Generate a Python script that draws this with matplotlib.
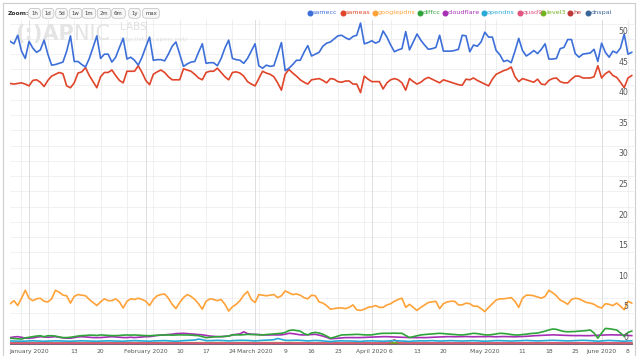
import pandas as pd
import matplotlib
matplotlib.use("Agg")
import matplotlib.pyplot as plt
import matplotlib.transforms as mtransforms
from matplotlib.lines import Line2D

# daily values, 27 Dec 2019 .. 9 Jun 2020
dates = pd.date_range("2019-12-27", "2020-06-09", freq="D")

samecc = [
    49.6, 49.2, 50.6, 48.0, 46.8, 49.6, 48.5, 47.8, 48.2, 49.8,
    47.5, 45.7, 45.8, 46.0, 46.2, 48.0, 50.5, 46.3, 46.3, 45.8,
    45.4, 46.8, 48.6, 50.5, 46.8, 47.5, 47.5, 46.2, 47.0, 48.6,
    50.1, 46.7, 47.0, 46.5, 45.7, 47.0, 48.7, 50.3, 46.5, 46.6,
    46.6, 46.4, 47.5, 48.8, 49.5, 47.5, 45.5, 45.9, 46.2, 46.3,
    47.8, 49.2, 46.0, 46.1, 46.1, 45.6, 46.8, 48.5, 49.8, 46.8,
    46.6, 46.5, 46.0, 46.8, 48.0, 49.2, 45.6, 45.2, 45.7, 45.5,
    45.6, 47.5, 49.4, 44.8, 45.2, 45.8, 46.5, 46.5, 47.8, 48.9,
    47.2, 47.5, 47.8, 48.8, 49.3, 49.5, 50.0, 50.5, 50.6, 50.2,
    49.9, 50.4, 50.6, 52.6, 49.2, 49.4, 49.7, 49.3, 49.6, 51.3,
    50.3, 49.0, 47.9, 48.2, 48.4, 51.2, 48.2, 49.5, 50.8, 49.8,
    49.0, 48.3, 48.4, 48.6, 50.6, 48.0, 48.0, 48.0, 48.1, 48.3,
    50.6, 50.5, 47.9, 49.0, 48.8, 49.5, 51.1, 50.3, 50.3, 48.1,
    47.4, 46.3, 46.5, 46.1, 48.0, 50.1, 48.1, 47.2, 47.6, 48.1,
    47.6, 48.3, 49.2, 46.7, 46.7, 46.8, 48.4, 48.6, 49.9, 49.9,
    47.6, 47.0, 47.5, 47.6, 47.7, 48.3, 46.3, 49.3, 47.8, 47.0,
    48.0, 47.7, 48.5, 50.8, 47.5, 47.8,
]
sameas = [
    42.7, 42.6, 42.7, 42.8, 42.6, 42.3, 43.2, 43.3, 42.9, 42.2,
    43.2, 43.9, 44.2, 44.5, 44.3, 42.3, 42.0, 42.8, 44.4, 44.6,
    45.3, 44.0, 43.0, 42.0, 43.8, 44.5, 44.5, 44.9, 44.0, 43.2,
    42.8, 44.7, 44.7, 44.7, 45.6, 44.5, 43.2, 42.5, 44.2, 44.6,
    44.9, 44.5, 43.8, 43.3, 43.3, 43.3, 45.1, 44.9, 44.7, 44.2,
    43.6, 43.3, 44.5, 44.7, 44.7, 45.2, 44.5, 43.8, 43.3, 44.5,
    44.6, 44.4, 43.9, 43.0, 42.6, 42.3, 43.5, 44.7, 44.4, 44.2,
    43.8, 42.8, 41.6, 44.2, 45.0, 44.4, 43.9, 43.3, 42.9, 42.6,
    43.3, 43.4, 43.5, 43.2, 42.8, 43.5, 43.4, 43.0, 42.9, 43.1,
    43.1, 42.6, 42.6, 41.2, 43.9, 43.4, 43.0, 43.0, 43.0, 41.8,
    42.8, 43.3, 43.5, 43.3, 42.8, 41.6, 43.5, 43.0, 42.6, 42.9,
    43.4, 43.7, 43.4, 43.1, 42.8, 43.3, 43.1, 42.9, 42.7, 42.5,
    42.4, 43.4, 43.3, 43.6, 43.2, 42.9, 42.6, 42.3, 43.4, 44.2,
    44.5, 44.8, 45.0, 45.4, 43.8, 43.0, 43.5, 43.3, 43.1, 42.9,
    43.4, 42.6, 42.5, 43.2, 43.5, 43.6, 43.0, 42.8, 42.8, 43.4,
    43.9, 43.9, 43.6, 43.6, 43.6, 43.8, 45.6, 43.6, 44.3, 44.7,
    44.0, 43.7, 42.9, 42.0, 43.6, 44.0,
]
googlepdns = [
    6.6, 7.1, 6.3, 7.5, 8.8, 7.5, 7.1, 7.4, 7.5, 7.0,
    6.9, 7.4, 8.8, 8.5, 8.0, 7.9, 6.7, 7.8, 8.1, 8.0,
    7.9, 7.3, 6.8, 6.3, 6.9, 7.4, 7.1, 7.1, 7.4, 6.9,
    5.9, 7.0, 7.4, 7.3, 7.5, 7.3, 7.0, 6.3, 7.3, 7.9,
    8.1, 8.2, 7.5, 6.5, 5.8, 6.8, 7.6, 8.1, 7.8, 7.3,
    6.6, 5.7, 7.0, 7.4, 7.3, 7.1, 7.3, 6.5, 5.4, 6.1,
    6.5, 7.1, 8.0, 8.6, 7.3, 6.8, 8.1, 8.0, 7.9, 8.0,
    8.1, 7.6, 7.9, 8.7, 8.4, 8.1, 8.2, 8.0, 7.6, 7.4,
    8.0, 7.9, 6.9, 6.7, 6.3, 5.7, 5.8, 5.9, 5.9, 5.8,
    6.0, 6.4, 5.6, 5.5, 5.7, 6.0, 6.1, 6.3, 6.0, 6.0,
    6.4, 6.6, 7.0, 7.3, 7.5, 6.0, 6.5, 6.0, 5.5, 6.0,
    6.4, 6.8, 6.9, 7.0, 5.8, 6.6, 6.9, 7.0, 7.0, 6.4,
    6.4, 6.7, 6.6, 6.2, 6.2, 5.8, 5.3, 6.0, 6.6, 7.2,
    7.4, 7.4, 7.5, 7.6, 7.0, 6.0, 7.5, 8.0, 8.0, 7.9,
    7.7, 7.5, 7.8, 8.8, 8.4, 7.9, 7.2, 6.9, 6.5, 7.3,
    7.5, 7.4, 7.1, 6.8, 6.7, 6.5, 6.1, 5.9, 6.6, 6.5,
    6.3, 6.7, 6.2, 5.6, 7.0, 6.7,
]
diffcc = [
    0.95, 0.90, 0.85, 0.80, 1.00, 1.10, 1.20, 1.30, 1.35, 1.20,
    1.35, 1.35, 1.30, 1.15, 1.05, 1.05, 1.10, 1.20, 1.30, 1.37,
    1.40, 1.45, 1.45, 1.40, 1.48, 1.45, 1.40, 1.37, 1.37, 1.40,
    1.45, 1.48, 1.45, 1.48, 1.45, 1.40, 1.37, 1.35, 1.40, 1.42,
    1.45, 1.48, 1.48, 1.45, 1.48, 1.50, 1.48, 1.48, 1.45, 1.40,
    1.37, 1.20, 1.04, 1.10, 1.15, 1.20, 1.20, 1.25, 1.30, 1.48,
    1.50, 1.48, 1.52, 1.58, 1.55, 1.55, 1.50, 1.48, 1.55, 1.60,
    1.65, 1.70, 1.75, 1.90, 2.20, 2.30, 2.20, 2.10, 1.70, 1.50,
    1.80, 1.90, 1.80, 1.60, 1.30, 0.95, 1.10, 1.30, 1.48, 1.50,
    1.52, 1.55, 1.58, 1.55, 1.50, 1.48, 1.50, 1.60, 1.70, 1.75,
    1.75, 1.75, 1.78, 1.75, 1.75, 1.40, 1.05, 1.20, 1.35, 1.48,
    1.55, 1.60, 1.65, 1.70, 1.75, 1.70, 1.65, 1.60, 1.55, 1.50,
    1.48, 1.55, 1.65, 1.75, 1.70, 1.60, 1.50, 1.48, 1.55, 1.65,
    1.75, 1.72, 1.65, 1.55, 1.48, 1.48, 1.55, 1.60, 1.70, 1.75,
    1.80, 1.95, 2.10, 2.30, 2.45, 2.40, 2.20, 2.05, 2.00, 2.02,
    2.05, 2.10, 2.15, 2.20, 2.30, 1.80, 0.95, 1.80, 2.55, 2.50,
    2.40, 2.30, 1.80, 1.25, 1.90, 2.10,
]
cloudflare = [
    1.05, 1.15, 1.20, 1.10, 0.95, 0.95, 1.00, 1.10, 1.20, 1.15,
    1.10, 1.15, 1.20, 1.10, 1.00, 0.95, 0.95, 1.05, 1.15, 1.20,
    1.15, 1.10, 1.05, 1.05, 1.05, 1.10, 1.15, 1.20, 1.15, 1.10,
    1.05, 1.05, 1.10, 1.05, 1.10, 1.15, 1.20, 1.20, 1.30, 1.40,
    1.45, 1.50, 1.55, 1.60, 1.70, 1.72, 1.75, 1.70, 1.65, 1.60,
    1.55, 1.50, 1.40, 1.30, 1.25, 1.20, 1.20, 1.25, 1.30, 1.50,
    1.58, 1.65, 2.00, 1.70, 1.60, 1.58, 1.55, 1.50, 1.48, 1.48,
    1.50, 1.48, 1.50, 1.60, 1.75, 1.70, 1.60, 1.50, 1.48, 1.50,
    1.55, 1.58, 1.45, 1.30, 1.10, 0.85, 0.90, 0.95, 1.00, 1.04,
    1.05, 1.05, 1.04, 1.05, 1.08, 1.10, 1.12, 1.15, 1.18, 1.20,
    1.20, 1.18, 1.15, 1.12, 1.10, 1.08, 1.05, 1.04, 1.05, 1.05,
    1.04, 1.06, 1.10, 1.12, 1.15, 1.18, 1.20, 1.20, 1.18, 1.20,
    1.20, 1.22, 1.20, 1.18, 1.20, 1.20, 1.20, 1.22, 1.20, 1.18,
    1.20, 1.22, 1.20, 1.20, 1.18, 1.20, 1.22, 1.25, 1.30, 1.35,
    1.38, 1.42, 1.45, 1.48, 1.50, 1.48, 1.45, 1.42, 1.40, 1.38,
    1.37, 1.38, 1.37, 1.36, 1.37, 1.40, 1.42, 1.45, 1.48, 1.50,
    1.50, 1.48, 1.48, 1.45, 1.40, 1.37,
]
opendns = [
    0.50, 0.48, 0.45, 0.45, 0.48, 0.50, 0.52, 0.50, 0.48, 0.45,
    0.48, 0.50, 0.52, 0.50, 0.48, 0.45, 0.45, 0.48, 0.50, 0.52,
    0.50, 0.48, 0.45, 0.45, 0.48, 0.50, 0.52, 0.50, 0.48, 0.45,
    0.45, 0.50, 0.52, 0.55, 0.52, 0.50, 0.48, 0.45, 0.50, 0.52,
    0.55, 0.55, 0.52, 0.48, 0.45, 0.50, 0.55, 0.58, 0.60, 0.65,
    0.80, 0.70, 0.55, 0.55, 0.58, 0.60, 0.58, 0.55, 0.50, 0.55,
    0.58, 0.60, 0.60, 0.58, 0.55, 0.50, 0.55, 0.60, 0.62, 0.65,
    0.70, 0.90, 0.75, 0.60, 0.58, 0.60, 0.62, 0.60, 0.55, 0.50,
    0.55, 0.58, 0.55, 0.50, 0.45, 0.40, 0.45, 0.50, 0.52, 0.50,
    0.50, 0.48, 0.45, 0.42, 0.48, 0.50, 0.52, 0.50, 0.48, 0.45,
    0.48, 0.50, 0.55, 0.52, 0.50, 0.45, 0.42, 0.48, 0.50, 0.52,
    0.50, 0.52, 0.55, 0.52, 0.48, 0.50, 0.52, 0.55, 0.52, 0.50,
    0.48, 0.50, 0.52, 0.55, 0.52, 0.50, 0.45, 0.48, 0.52, 0.55,
    0.55, 0.52, 0.50, 0.48, 0.50, 0.52, 0.55, 0.58, 0.55, 0.52,
    0.50, 0.52, 0.55, 0.58, 0.60, 0.58, 0.55, 0.52, 0.50, 0.52,
    0.55, 0.58, 0.60, 0.58, 0.55, 0.50, 0.45, 0.50, 0.55, 0.58,
    0.55, 0.52, 0.50, 0.45, 0.50, 0.52,
]
quad9 = [
    0.15, 0.15, 0.14, 0.14, 0.15, 0.15, 0.16, 0.15, 0.15, 0.14,
    0.15, 0.15, 0.16, 0.15, 0.15, 0.14, 0.14, 0.15, 0.16, 0.15,
    0.15, 0.15, 0.14, 0.14, 0.15, 0.16, 0.16, 0.15, 0.15, 0.14,
    0.14, 0.15, 0.16, 0.16, 0.15, 0.15, 0.14, 0.14, 0.15, 0.16,
    0.16, 0.16, 0.15, 0.14, 0.14, 0.15, 0.16, 0.16, 0.16, 0.15,
    0.15, 0.14, 0.15, 0.16, 0.16, 0.16, 0.15, 0.15, 0.14, 0.15,
    0.16, 0.16, 0.17, 0.16, 0.15, 0.14, 0.15, 0.16, 0.17, 0.17,
    0.16, 0.15, 0.14, 0.16, 0.17, 0.17, 0.17, 0.16, 0.15, 0.15,
    0.16, 0.17, 0.16, 0.15, 0.15, 0.14, 0.15, 0.16, 0.16, 0.16,
    0.16, 0.15, 0.15, 0.14, 0.16, 0.16, 0.17, 0.17, 0.16, 0.15,
    0.18, 0.35, 0.70, 0.30, 0.16, 0.15, 0.14, 0.16, 0.16, 0.17,
    0.17, 0.17, 0.16, 0.16, 0.15, 0.16, 0.17, 0.17, 0.17, 0.16,
    0.16, 0.17, 0.17, 0.17, 0.17, 0.16, 0.15, 0.16, 0.17, 0.17,
    0.17, 0.17, 0.17, 0.16, 0.16, 0.15, 0.16, 0.17, 0.17, 0.18,
    0.17, 0.17, 0.16, 0.17, 0.18, 0.18, 0.17, 0.17, 0.16, 0.17,
    0.17, 0.18, 0.18, 0.17, 0.17, 0.16, 0.15, 0.17, 0.18, 0.18,
    0.18, 0.17, 0.17, 0.16, 0.17, 0.18,
]
level3 = [
    0.22, 0.22, 0.21, 0.21, 0.22, 0.22, 0.23, 0.22, 0.22, 0.21,
    0.22, 0.22, 0.23, 0.22, 0.22, 0.21, 0.21, 0.22, 0.23, 0.22,
    0.22, 0.22, 0.21, 0.21, 0.22, 0.23, 0.22, 0.22, 0.22, 0.21,
    0.21, 0.22, 0.22, 0.23, 0.22, 0.22, 0.21, 0.21, 0.22, 0.22,
    0.23, 0.22, 0.22, 0.21, 0.21, 0.22, 0.22, 0.22, 0.22, 0.21,
    0.21, 0.20, 0.21, 0.22, 0.22, 0.22, 0.21, 0.21, 0.20, 0.21,
    0.22, 0.22, 0.22, 0.21, 0.21, 0.20, 0.21, 0.21, 0.22, 0.22,
    0.21, 0.21, 0.20, 0.21, 0.21, 0.22, 0.21, 0.21, 0.20, 0.20,
    0.21, 0.21, 0.21, 0.20, 0.20, 0.19, 0.20, 0.20, 0.21, 0.21,
    0.20, 0.20, 0.19, 0.19, 0.20, 0.20, 0.21, 0.20, 0.20, 0.19,
    0.19, 0.20, 0.20, 0.20, 0.19, 0.19, 0.19, 0.20, 0.20, 0.20,
    0.20, 0.19, 0.19, 0.18, 0.19, 0.19, 0.20, 0.19, 0.19, 0.18,
    0.18, 0.19, 0.19, 0.19, 0.19, 0.18, 0.18, 0.18, 0.19, 0.19,
    0.19, 0.18, 0.18, 0.17, 0.18, 0.18, 0.19, 0.18, 0.18, 0.18,
    0.17, 0.18, 0.18, 0.18, 0.18, 0.17, 0.17, 0.17, 0.18, 0.18,
    0.18, 0.17, 0.17, 0.16, 0.17, 0.17, 0.18, 0.17, 0.17, 0.17,
    0.16, 0.17, 0.17, 0.17, 0.16, 0.16,
]
he = [
    0.08, 0.08, 0.07, 0.07, 0.08, 0.08, 0.08, 0.08, 0.08, 0.07,
    0.08, 0.08, 0.08, 0.08, 0.08, 0.07, 0.07, 0.08, 0.08, 0.08,
    0.08, 0.08, 0.07, 0.07, 0.08, 0.08, 0.08, 0.08, 0.08, 0.07,
    0.07, 0.08, 0.08, 0.08, 0.08, 0.08, 0.07, 0.07, 0.08, 0.08,
    0.08, 0.08, 0.08, 0.07, 0.07, 0.08, 0.08, 0.08, 0.08, 0.08,
    0.07, 0.07, 0.08, 0.08, 0.08, 0.08, 0.08, 0.07, 0.07, 0.08,
    0.08, 0.08, 0.08, 0.08, 0.07, 0.07, 0.08, 0.08, 0.08, 0.08,
    0.08, 0.07, 0.07, 0.08, 0.08, 0.08, 0.08, 0.08, 0.07, 0.07,
    0.08, 0.08, 0.08, 0.08, 0.08, 0.07, 0.07, 0.08, 0.08, 0.08,
    0.08, 0.08, 0.07, 0.07, 0.08, 0.08, 0.08, 0.08, 0.08, 0.07,
    0.07, 0.08, 0.08, 0.08, 0.08, 0.08, 0.07, 0.07, 0.08, 0.08,
    0.08, 0.08, 0.08, 0.07, 0.07, 0.08, 0.08, 0.08, 0.08, 0.08,
    0.07, 0.07, 0.08, 0.08, 0.08, 0.08, 0.08, 0.07, 0.07, 0.08,
    0.08, 0.08, 0.08, 0.08, 0.07, 0.07, 0.08, 0.08, 0.08, 0.08,
    0.08, 0.07, 0.07, 0.08, 0.08, 0.08, 0.08, 0.08, 0.07, 0.07,
    0.08, 0.08, 0.08, 0.08, 0.08, 0.07, 0.07, 0.08, 0.08, 0.08,
    0.08, 0.08, 0.07, 0.07, 0.08, 0.08,
]
dnspai = [
    0.02, 0.02, 0.02, 0.02, 0.02, 0.02, 0.02, 0.02, 0.02, 0.02,
    0.02, 0.02, 0.02, 0.02, 0.02, 0.02, 0.02, 0.02, 0.02, 0.02,
    0.02, 0.02, 0.02, 0.02, 0.02, 0.02, 0.02, 0.02, 0.02, 0.02,
    0.02, 0.02, 0.02, 0.02, 0.02, 0.02, 0.02, 0.02, 0.02, 0.02,
    0.02, 0.02, 0.02, 0.02, 0.02, 0.02, 0.02, 0.02, 0.02, 0.02,
    0.02, 0.02, 0.02, 0.02, 0.02, 0.02, 0.02, 0.02, 0.02, 0.02,
    0.02, 0.02, 0.02, 0.02, 0.02, 0.02, 0.02, 0.02, 0.02, 0.02,
    0.02, 0.02, 0.02, 0.02, 0.02, 0.02, 0.02, 0.02, 0.02, 0.02,
    0.02, 0.02, 0.02, 0.02, 0.02, 0.02, 0.02, 0.02, 0.02, 0.02,
    0.02, 0.02, 0.02, 0.02, 0.02, 0.02, 0.02, 0.02, 0.02, 0.02,
    0.02, 0.02, 0.02, 0.02, 0.02, 0.02, 0.02, 0.02, 0.02, 0.02,
    0.02, 0.02, 0.02, 0.02, 0.02, 0.02, 0.02, 0.02, 0.02, 0.02,
    0.02, 0.02, 0.02, 0.02, 0.02, 0.02, 0.02, 0.02, 0.02, 0.02,
    0.02, 0.02, 0.02, 0.02, 0.02, 0.02, 0.02, 0.02, 0.02, 0.02,
    0.02, 0.02, 0.02, 0.02, 0.02, 0.02, 0.02, 0.02, 0.02, 0.02,
    0.02, 0.02, 0.02, 0.02, 0.02, 0.02, 0.02, 0.02, 0.02, 0.02,
    0.02, 0.02, 0.02, 0.02, 0.02, 0.02,
]

series_names = ["samecc", "sameas", "googlepdns", "diffcc", "cloudflare",
                "opendns", "quad9", "level3", "he", "dnspai"]
series_values = [samecc, sameas, googlepdns, diffcc, cloudflare,
                 opendns, quad9, level3, he, dnspai]
colors = ["#3d6fd9", "#e0452a", "#ffa238", "#2fa43a", "#a62fb5",
          "#2aa9d6", "#e2527f", "#72b320", "#c03535", "#3a6597"]

tick_dates = ["2020-01-01", "2020-01-13", "2020-01-20", "2020-02-01", "2020-02-10",
              "2020-02-17", "2020-02-24", "2020-03-01", "2020-03-09", "2020-03-16",
              "2020-03-23", "2020-04-01", "2020-04-06", "2020-04-13", "2020-04-20",
              "2020-05-01", "2020-05-11", "2020-05-18", "2020-05-25", "2020-06-01",
              "2020-06-08"]
tick_labels = ["January 2020", "13", "20", "February 2020", "10", "17", "24",
               "March 2020", "9", "16", "23", "April 2020", "6", "13", "20",
               "May 2020", "11", "18", "25", "June 2020", "8"]
y_ticks = [0, 5, 10, 15, 20, 25, 30, 35, 40, 45, 50]
zoom_buttons = ["1h", "1d", "5d", "1w", "1m", "2m", "6m", "1y", "max"]

W, H = 640, 363
fig = plt.figure(figsize=(W / 100, H / 100), dpi=100)
fig.patch.set_facecolor("white")


def px(x, y):
    return x / W, 1 - y / H


# plot area: left 10px, right 634px, top 20px, bottom 346px
ax = fig.add_axes([10 / W, 17 / H, 624 / W, 326 / H])
ax.set_facecolor("none")
x0 = dates[0]
ax.set_xlim(x0 - pd.Timedelta(days=0.05), x0 + pd.Timedelta(days=165.6))
ax.set_ylim(-0.33, 53.1)
for s in ax.spines.values():
    s.set_visible(False)

# grid
for v in range(0, 54 * 2, 5):
    ax.axhline(v / 2, color="#eeeef4", lw=0.6, zorder=0)
for d in pd.date_range("2019-12-30", "2020-06-09", freq="W-MON"):
    ax.axvline(d, color="#ececec", lw=0.6, zorder=0)
for d in pd.date_range("2020-01-01", "2020-06-09", freq="MS"):
    ax.axvline(d, color="#dddddd", lw=0.7, zorder=0)

# watermark
ax.text(*px(15, 40), "(:)AP", transform=fig.transFigure, fontsize=15,
        fontweight="bold", color="#e4e4e4", zorder=1)
ax.text(*px(74, 40), "NIC", transform=fig.transFigure, fontsize=15,
        color="#e4e4e4", zorder=1)
ax.text(*px(120, 30), "LABS", transform=fig.transFigure, fontsize=7.5,
        color="#e0e0e0", zorder=1)
ax.text(*px(119, 41), "http://stats.apnic.net/", transform=fig.transFigure,
        fontsize=4.5, color="#e0e0e0", zorder=1)

# series, drawn bottom to top so samecc sits on top
for name, vals, c in reversed(list(zip(series_names, series_values, colors))):
    ax.plot(dates, vals, color=c, lw=1.2, solid_joinstyle="round", zorder=3)

# axis labels
ax.set_xticks(pd.to_datetime(tick_dates))
ax.set_xticklabels(tick_labels)
ax.tick_params(axis="x", length=0, pad=2.5, labelsize=4.3, labelcolor="#555555")
ax.set_yticks([])

ytrans = mtransforms.offset_copy(ax.get_yaxis_transform(), fig=fig, y=5.0, units="points")
for v in y_ticks:
    ax.text(0.9905, v, str(v), transform=ytrans, ha="right", va="center",
            fontsize=5.6, color="#555555", zorder=4)

# frame of the widget
fig.add_artist(Line2D([3 / W, 635 / W], [1 - 2.7 / H, 1 - 2.7 / H],
                      color="#cccccc", lw=0.8, transform=fig.transFigure))
for xp in (3, 634.5):
    fig.add_artist(Line2D([xp / W, xp / W], [1 - 3 / H, 1 - 355 / H],
                          color="#cfcfcf", lw=0.8, transform=fig.transFigure))

# zoom bar
fig.text(*px(8, 13.3), "Zoom:", fontsize=4.4, fontweight="bold", color="#333333",
         va="center")
btn_x = [34.5, 48, 61.5, 75.5, 89, 104, 118.5, 134.5, 151]
for bx, lab in zip(btn_x, zoom_buttons):
    fig.text(*px(bx, 13.3), lab, fontsize=3.9, color="#444444", ha="center", va="center",
             bbox=dict(boxstyle="round,pad=0.45,rounding_size=0.6", fc="#f7f7f7",
                       ec="#bdbdbd", lw=0.5))

# legend
leg_x = [310, 342.7, 375, 420, 445, 484, 520, 543, 570, 588]
for lx, name, c in zip(leg_x, series_names, colors):
    fig.add_artist(Line2D([lx / W], [1 - 12.5 / H], marker="o", ms=3.3, color=c,
                          lw=0, transform=fig.transFigure))
    fig.text(*px(lx + 3, 12.5), name, fontsize=4.6, color=c, va="center")

fig.savefig("out.png", dpi=100)
